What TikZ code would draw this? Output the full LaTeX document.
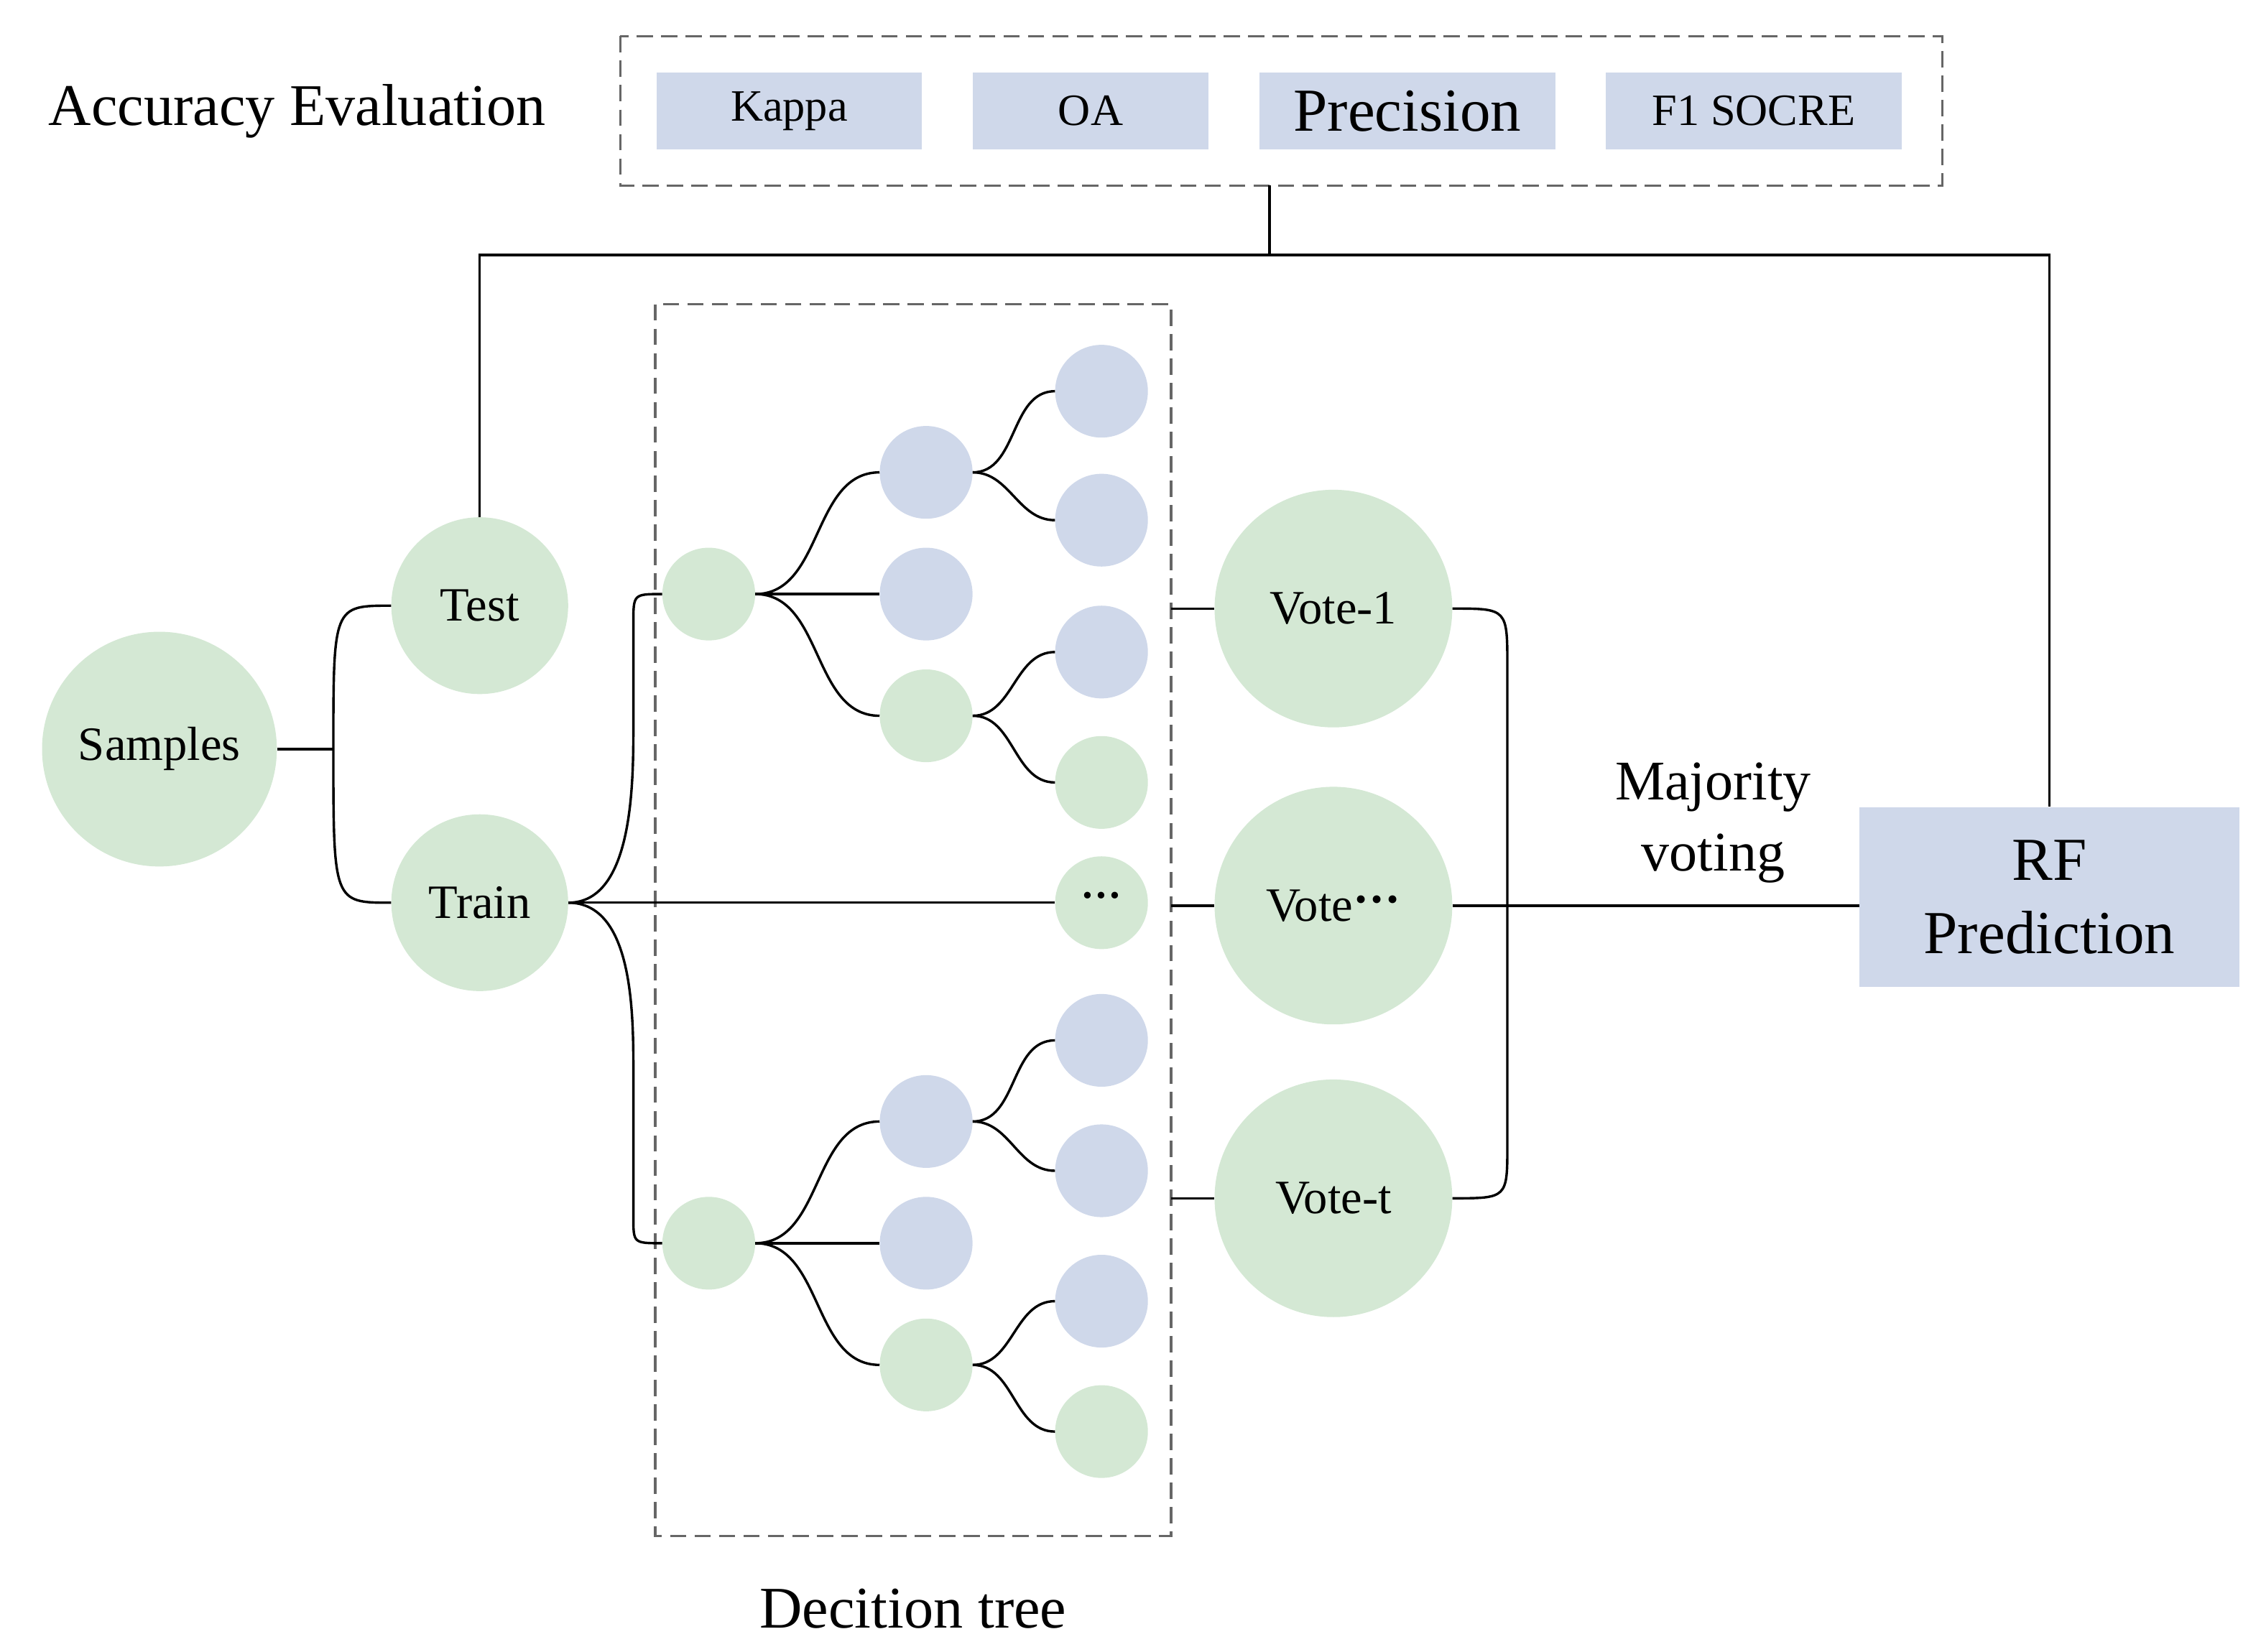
\documentclass[tikz,border=0pt]{standalone}
\usepackage{fontspec}
\setmainfont{Liberation Serif}
\definecolor{gr}{HTML}{D4E8D4}
\definecolor{bl}{HTML}{CFD8EA}
\begin{document}
\begin{tikzpicture}[x=0.05cm,y=-0.05cm,
  gc/.style={circle,fill=gr,draw=none,inner sep=0pt},
  bc/.style={circle,fill=bl,draw=none,inner sep=0pt},
  sm/.style={gc,minimum size=64*0.05cm},
  sb/.style={bc,minimum size=64*0.05cm},
  ln/.style={draw=black,line width=2.4pt},
  db/.style={draw=gray!80!black,dash pattern=on 16pt off 8pt,line width=2.4pt},
  txt/.style={font=\fontsize{47}{54}\selectfont},
  rb/.style={fill=bl,draw=none,font=\fontsize{44}{50}\selectfont,inner sep=0pt}]
\useasboundingbox (0,0) rectangle (1560,1140);
% top box
\draw[db] (428,25) rectangle (1340,128);
\node[rb,minimum width=183*0.05cm,minimum height=53*0.05cm] (k) at (544.5,76.5) {Kappa};
\node[rb,minimum width=163*0.05cm,minimum height=53*0.05cm] (oa) at (752.5,76.5) {OA};
\node[rb,minimum width=204*0.05cm,minimum height=53*0.05cm,font=\fontsize{60}{64}\selectfont] (pr) at (971,76.5) {Precision};
\node[rb,minimum width=204*0.05cm,minimum height=53*0.05cm] (f1) at (1210,76.5) {F1 SOCRE};
\node[font=\fontsize{58}{64}\selectfont] (ae) at (205,77) {Accuracy Evaluation};
\coordinate (tb) at (876,128);
% main nodes
\node[gc,minimum size=162*0.05cm,txt] (s) at (110,517) {Samples};
\node[gc,minimum size=122*0.05cm,txt] (te) at (331,418) {Test};
\node[gc,minimum size=122*0.05cm,txt] (tr) at (331,623) {Train};
% tree box
\draw[db] (452,210) rectangle (808,1060);
\node[font=\fontsize{58}{64}\selectfont] (dt) at (630,1110) {Decition tree};
% tree 1
\node[sm] (r1) at (489,410) {};
\node[sb] (a1) at (639,326) {};
\node[sb] (a2) at (639,410) {};
\node[sm] (a3) at (639,494) {};
\node[sb] (g1) at (760,270) {};
\node[sb] (g2) at (760,359) {};
\node[sb] (g3) at (760,450) {};
\node[sm] (g4) at (760,540) {};
% tree 2
\node[sm] (r2) at (489,858) {};
\node[sb] (b1) at (639,774) {};
\node[sb] (b2) at (639,858) {};
\node[sm] (b3) at (639,942) {};
\node[sb] (h1) at (760,718) {};
\node[sb] (h2) at (760,808) {};
\node[sb] (h3) at (760,898) {};
\node[sm] (h4) at (760,988) {};
\node[sm,font=\fontsize{40}{40}\selectfont\bfseries] (dd) at (760,623) {\raisebox{0.25ex}{···}};
% votes
\node[gc,minimum size=164*0.05cm,txt] (v1) at (920,420) {Vote-1};
\node[gc,minimum size=164*0.05cm,txt] (v2) at (920,625) {Vote\textbf{\raisebox{0.25ex}{···}}};
\node[gc,minimum size=164*0.05cm,txt] (v3) at (920,827) {Vote-t};
\node[rb,minimum width=262*0.05cm,minimum height=124*0.05cm,align=center,font=\fontsize{60}{72}\selectfont] (rf) at (1414,619) {RF\\Prediction};
\node[align=center,font=\fontsize{55}{70}\selectfont] (mv) at (1182,568) {Majority\\voting};
% connectors
\draw[ln] (tb) -- (876,176);
\draw[ln] (te.north) -- (331,176) -- (1414,176) -- (rf.north);
\draw[ln] (s.east) -- (230,517);
\draw[ln] (230,517) .. controls (230,418) .. (te.west);
\draw[ln] (230,517) .. controls (230,623) .. (tr.west);
\draw[ln] (tr.east) .. controls (437,623) and (437,540) .. (437,500) -- (437,430) .. controls (437,410) .. (r1.west);
\draw[ln] (tr.east) .. controls (437,623) and (437,700) .. (437,740) -- (437,840) .. controls (437,858) .. (r2.west);
\draw[ln] (tr.east) -- (dd.west);
\foreach \p/\c in {r1/a1,r1/a3,a1/g1,a1/g2,a3/g3,a3/g4,r2/b1,r2/b3,b1/h1,b1/h2,b3/h3,b3/h4}
  \draw[ln] (\p.east) to[out=0,in=180] (\c.west);
\draw[ln] (r1.east) -- (a2.west);
\draw[ln] (r2.east) -- (b2.west);
\draw[ln] (808,420) -- (v1.west);
\draw[ln] (808,625) -- (v2.west);
\draw[ln] (808,827) -- (v3.west);
\draw[ln] (v1.east) .. controls (1040,420) .. (1040,460) -- (1040,790) .. controls (1040,827) .. (v3.east);
\draw[ln] (v2.east) -- (v2.east -| rf.west);
\end{tikzpicture}
\end{document}
